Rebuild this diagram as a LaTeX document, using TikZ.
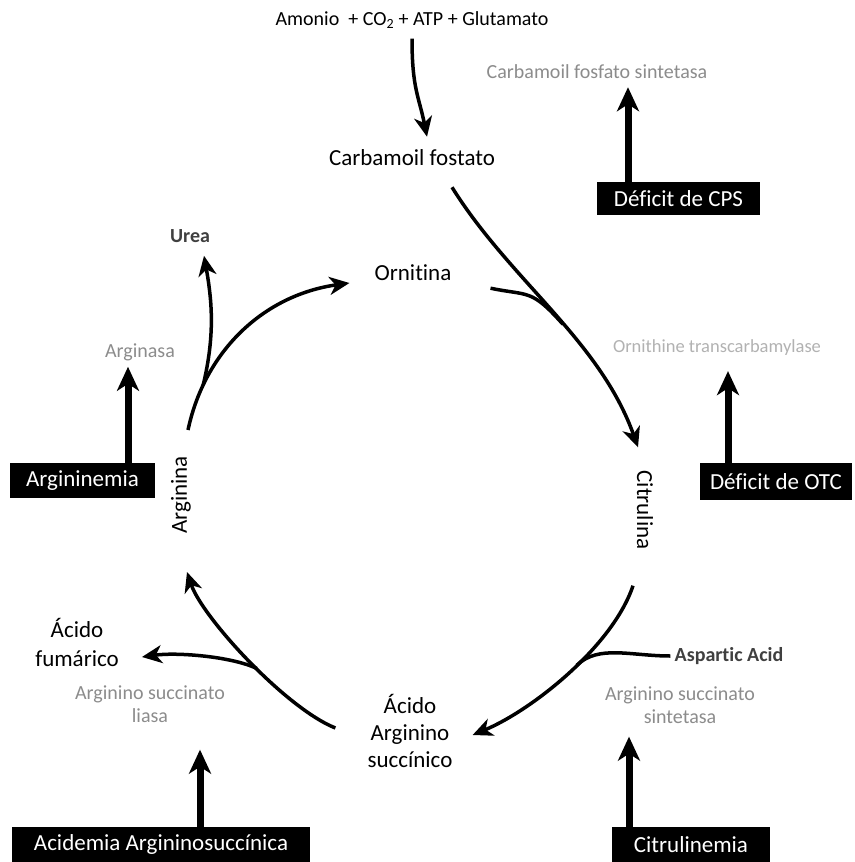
\documentclass[tikz,border=0pt]{standalone}
\usepackage{fontspec}
\setmainfont{Carlito}[Ligatures=NoCommon, Contextuals=NoAlternate]
\usetikzlibrary{arrows.meta}

\tikzset{
  metab/.style={inner sep=0pt, align=center, font=\fontsize{23}{27}\selectfont},
  side/.style={inner sep=0pt, text=black!75, font=\bfseries\fontsize{20}{24}\selectfont},
  enzyme/.style={inner sep=0pt, align=center, text=black!45, font=\fontsize{20}{23}\selectfont},
  deficit/.style={fill=black, text=white, inner sep=0pt, font=\fontsize{23}{27}\selectfont},
  flowline/.style={line width=3.5pt},
  flow/.style={flowline, -{Stealth[length=20pt,width=18pt,inset=6pt]}},
  block/.style={line width=7pt, -{Stealth[length=24pt,width=22pt,inset=7pt]}},
}

\begin{document}
\begin{tikzpicture}[x=1pt,y=-1pt]
  \useasboundingbox[fill=white] (0,0) rectangle (854,862);

  % metabolites
  \node[metab, font=\fontsize{20}{24}\selectfont] (amm) at (412,20) {Amonio\ \ + CO\textsubscript{2} + ATP + Glutamato};
  \node[metab] (carb) at (412,158) {Carbamoil fostato};
  \node[metab] (orn) at (413,273) {Ornitina};
  \node[metab, rotate=-90] (citr) at (645,510) {Citrulina};
  \node[metab, rotate=90] (argi) at (181,495) {Arginina};
  \node[metab] (asa) at (410,731) {Ácido\\Arginino\\succínico};
  \node[metab, font=\fontsize{23}{29}\selectfont] (fum) at (77,642) {Ácido\\fumárico};
  \node[side] (urea) at (190,236) {Urea};
  \node[side] (asp) at (729,656) {Aspartic Acid};

  % enzymes
  \node[enzyme] (ecps) at (597,72) {Carbamoil fosfato sintetasa};
  \node[enzyme, text=black!30, font=\fontsize{18.5}{22}\selectfont] (eotc) at (717,348) {Ornithine transcarbamylase};
  \node[enzyme] (earg) at (140,352) {Arginasa};
  \node[enzyme] (easl) at (150,704) {Arginino succinato\\liasa};
  \node[enzyme] (eass) at (680,705) {Arginino succinato\\sintetasa};

  % deficits
  \node[deficit, minimum width=163, minimum height=33] (dcps) at (678.5,198.5) {Déficit de CPS};
  \node[deficit, minimum width=152, minimum height=37] (dotc) at (776,481.5) {Déficit de OTC};
  \node[deficit, minimum width=145, minimum height=35] (dargi) at (82.5,480.5) {Argininemia};
  \node[deficit, minimum width=298, minimum height=35] (dasl) at (161,844.5) {Acidemia Argininosuccínica};
  \node[deficit, minimum width=158, minimum height=35] (dcit) at (691,844.5) {Citrulinemia};

  % cycle
  \draw[flow] ([shift={(0,10)}]amm.south) .. controls +(0,50) and +(-8,-40) .. ([shift={(15,-13)}]carb.north);
  \draw[flow] ([shift={(40,21)}]carb.south) .. controls +(58,93) and +(-38,-107) .. ([shift={(-7,-23)}]citr.west) coordinate[pos=0.55] (m-orn);
  \draw[flowline] ([shift={(39,7)}]orn.south east) .. controls +(38,8) and +(-32,-36) .. (m-orn);
  \draw[flow] ([shift={(7,-26)}]argi.east) .. controls +(17,-80) and +(-85,12) .. ([shift={(-25,10)}]orn.west) coordinate[pos=0.2] (m-urea);
  \draw[flow] (m-urea) .. controls +(12,-50) and +(8,45) .. ([shift={(14,13)}]urea.south);
  \draw[flow] ([shift={(-12,36)}]citr.east) .. controls +(-20,60) and +(60,-25) .. ([shift={(20,4)}]asa.east) coordinate[pos=0.45] (m-asp);
  \draw[flowline] ([shift={(-4,0)}]asp.west) .. controls +(-40,0) and +(22,-21) .. (m-asp);
  \draw[flow] ([shift={(-32,-3)}]asa.west) .. controls +(-50,-20) and +(15,45) .. ([shift={(6,38)}]argi.west) coordinate[pos=0.45] (m-fum);
  \draw[flow] (m-fum) .. controls +(-25,-12) and +(35,-5) .. ([shift={(23,15)}]fum.east);

  % blocked enzymes
  \draw[block] ([shift={(-50.5,0)}]dcps.north) -- ([shift={(31,8)}]ecps.south);
  \draw[block] ([shift={(-48,0)}]dotc.north) -- ([shift={(11,15)}]eotc.south);
  \draw[block] ([shift={(45.5,0)}]dargi.north) -- ([shift={(-12,6)}]earg.south);
  \draw[block] ([shift={(39,0)}]dasl.north) -- ([shift={(50,27)}]easl.south);
  \draw[block] ([shift={(-62,0)}]dcit.north) -- ([shift={(-51,13)}]eass.south);
\end{tikzpicture}
\end{document}
